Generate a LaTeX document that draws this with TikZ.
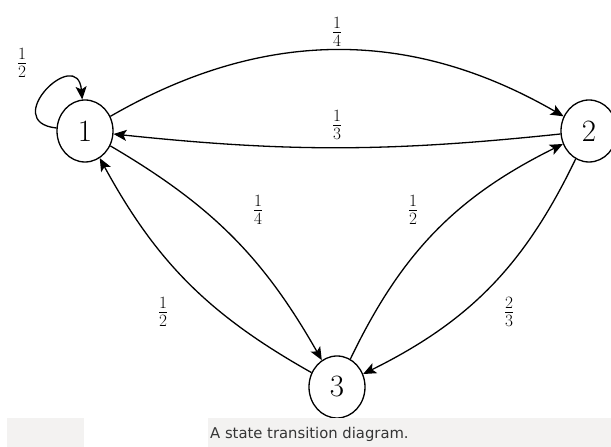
\documentclass[tikz,border=0pt]{standalone}
\usepackage{fontspec}
\newfontfamily\capfont{DejaVu Sans}
\usetikzlibrary{shapes.geometric,arrows.meta}
\definecolor{capgray}{HTML}{F3F2F1}
\definecolor{captext}{HTML}{353535}
\begin{document}
\begin{tikzpicture}[x=1pt,y=1pt,
  state/.style={ellipse,draw,line width=1.3pt,minimum width=56pt,minimum height=62pt,inner sep=0pt,font=\fontsize{31}{35}\selectfont},
  edge/.style={line width=1.3pt,-{Stealth[length=13pt,width=11pt,inset=3pt]}},
  prob/.style={font=\fontsize{24}{28}\selectfont,inner sep=0pt}]
\useasboundingbox (0,0) rectangle (611,447);
\node[state] (n1) at (85,316) {1};
\node[state] (n2) at (589,316) {2};
\node[state] (n3) at (337,60) {3};

\draw[edge] (n1) to[out=30,in=150] (n2);
\draw[edge] (n2) to[bend left=6] (n1);
\draw[edge] (n1) to[bend left=15] (n3);
\draw[edge] (n3) to[bend left=16] (n1);
\draw[edge] (n3) to[bend left=19] (n2);
\draw[edge] (n2) to[bend left=19] (n3);
\draw[edge] (n1.174) .. controls +(174:58) and +(95:55) .. (n1.95);

\node[prob] (p12) at (337,415) {$\frac{1}{4}$};
\node[prob] (p21) at (337,322) {$\frac{1}{3}$};
\node[prob] (p13) at (258,237) {$\frac{1}{4}$};
\node[prob] (p31) at (163,135) {$\frac{1}{2}$};
\node[prob] (p32) at (413,237) {$\frac{1}{2}$};
\node[prob] (p23) at (509,135) {$\frac{2}{3}$};
\node[prob] (p11) at (22,384) {$\frac{1}{2}$};

\fill[capgray] (7,0) rectangle (84,29);
\fill[capgray] (208,0) rectangle (611,29);
\node[anchor=base west,font=\capfont\fontsize{14.8}{17}\selectfont,text=captext,inner sep=0pt] (cap) at (210,8) {A state transition diagram.};
\end{tikzpicture}
\end{document}
